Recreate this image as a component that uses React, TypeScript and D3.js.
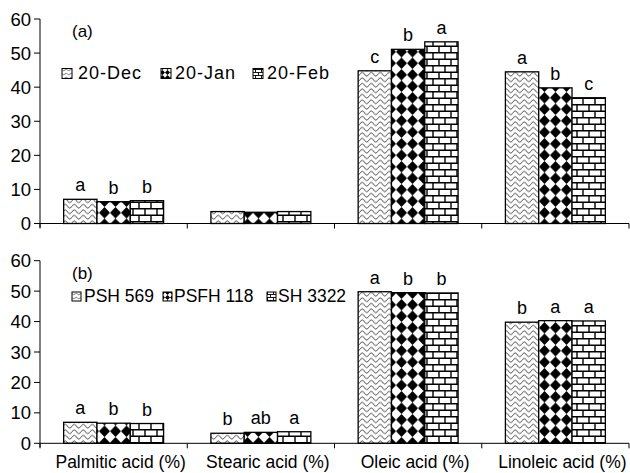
import React from "react";
import * as d3 from "d3";

const categories = ["Palmitic acid (%)", "Stearic acid (%)", "Oleic acid (%)", "Linoleic acid (%)"];
const yTicks = [0, 10, 20, 30, 40, 50, 60];

// panel (a): sowing dates
const dateSeries = ["20-Dec", "20-Jan", "20-Feb"];
const decValues = [7.1, 3.5, 44.8, 44.5];
const janValues = [6.4, 3.3, 51.1, 39.8];
const febValues = [6.7, 3.5, 53.3, 36.9];
const decLetters = ["a", "", "c", "a"];
const janLetters = ["b", "", "b", "b"];
const febLetters = ["b", "", "a", "c"];

// panel (b): hybrids
const hybridSeries = ["PSH 569", "PSFH 118", "SH 3322"];
const psh569Values = [6.9, 3.3, 49.8, 39.8];
const psfh118Values = [6.6, 3.6, 49.5, 40.3];
const sh3322Values = [6.5, 3.8, 49.4, 40.2];
const psh569Letters = ["a", "b", "a", "b"];
const psfh118Letters = ["b", "ab", "b", "a"];
const sh3322Letters = ["b", "a", "b", "a"];

const W = 630;
const H = 473;
const font = "'Liberation Sans', Arial, sans-serif";
const patterns = ["url(#wave)", "url(#diamond)", "url(#brick)"];
const smallPatterns = ["url(#waveS)", "url(#diamondS)", "url(#brickS)"];

const x0 = d3.scaleBand<string>().domain(categories).range([40, 629]);
const x1 = d3
  .scaleBand<number>()
  .domain([0, 1, 2])
  .range([0, x0.bandwidth()])
  .paddingOuter(0.71);

type PanelProps = {
  top: number;
  bottom: number;
  tag: string;
  series: string[];
  values: number[][];
  letters: string[][];
  legend: { swatchX: number[]; textX: number[]; y: number; size: number; fontSize: number; spacing: number };
};

function Panel({ top, bottom, tag, series, values, letters, legend }: PanelProps) {
  const y = d3.scaleLinear().domain([0, 60]).range([bottom, top]);
  const edges = categories.map((c) => x0(c) as number).concat([629]);
  return (
    <g>
      {categories.map((c, ci) =>
        series.map((s, si) => {
          const v = values[si][ci];
          const bx = (x0(c) as number) + (x1(si) as number);
          const bw = x1.bandwidth();
          return (
            <g key={c + s}>
              <rect
                x={bx}
                y={y(v)}
                width={bw}
                height={y(0) - y(v)}
                fill={patterns[si]}
                stroke="#000"
                strokeWidth={1.3}
              />
              {letters[si][ci] && (
                <text x={bx + bw / 2} y={y(v) - 8} textAnchor="middle" fontSize={18} fontFamily={font}>
                  {letters[si][ci]}
                </text>
              )}
            </g>
          );
        })
      )}
      {/* y axis */}
      <line x1={40} x2={40} y1={y(60)} y2={bottom + 4} stroke="#000" strokeWidth={1} />
      {yTicks.map((t) => (
        <g key={t}>
          <line x1={34} x2={40} y1={y(t)} y2={y(t)} stroke="#000" strokeWidth={1} />
          <text x={31} y={y(t) + 6.5} textAnchor="end" fontSize={18.5} fontFamily={font}>
            {t}
          </text>
        </g>
      ))}
      {/* x axis */}
      <line x1={40} x2={629} y1={bottom} y2={bottom} stroke="#000" strokeWidth={1} />
      {edges.map((e) => (
        <line key={e} x1={e} x2={e} y1={bottom} y2={bottom + 5} stroke="#000" strokeWidth={1} />
      ))}
      <text x={72} y={top + 18} fontSize={17} fontFamily={font}>
        {tag}
      </text>
      {series.map((s, si) => (
        <g key={s}>
          <rect
            x={legend.swatchX[si]}
            y={legend.y - legend.size - 0.5}
            width={legend.size}
            height={legend.size}
            fill={smallPatterns[si]}
            stroke="#000"
            strokeWidth={1}
          />
          <text
            x={legend.textX[si]}
            y={legend.y}
            fontSize={legend.fontSize}
            letterSpacing={legend.spacing}
            fontFamily={font}
          >
            {s}
          </text>
        </g>
      ))}
    </g>
  );
}

export default function App() {
  return (
    <svg width={W} height={H} style={{ position: "absolute", left: 0, top: 0, background: "#fff" }}>
      <defs>
        <pattern id="wave" width={9} height={5.5} patternUnits="userSpaceOnUse">
          <rect width={9} height={5.5} fill="#fff" />
          <path d="M0,2.75 Q2.25,-1 4.5,2.75 T9,2.75" fill="none" stroke="#333" strokeWidth={0.9} />
        </pattern>
        <pattern id="diamond" width={11} height={11.5} patternUnits="userSpaceOnUse">
          <rect width={11} height={11.5} fill="#fff" />
          <path d="M5.5,0 L11,5.75 L5.5,11.5 L0,5.75 Z" fill="#000" />
        </pattern>
        <pattern id="brick" width={12} height={13} patternUnits="userSpaceOnUse">
          <rect width={12} height={13} fill="#fff" />
          <path d="M0,0.7 H12 M0,7.2 H12 M1,0 V7 M7,7 V13" fill="none" stroke="#000" strokeWidth={1.4} />
        </pattern>
        <pattern id="waveS" width={5} height={4} patternUnits="userSpaceOnUse">
          <rect width={5} height={4} fill="#fff" />
          <path d="M0,2 Q1.25,0.5 2.5,2 T5,2" fill="none" stroke="#444" strokeWidth={0.7} />
        </pattern>
        <pattern id="diamondS" width={5} height={5} patternUnits="userSpaceOnUse">
          <rect width={5} height={5} fill="#fff" />
          <path d="M2.5,0 L5,2.5 L2.5,5 L0,2.5 Z" fill="#000" />
        </pattern>
        <pattern id="brickS" width={6} height={6} patternUnits="userSpaceOnUse">
          <rect width={6} height={6} fill="#fff" />
          <path d="M0,0.5 H6 M0,3.5 H6 M0.5,0 V3 M3.5,3 V6" fill="none" stroke="#000" strokeWidth={0.9} />
        </pattern>
      </defs>
      <rect width={W} height={H} fill="#fff" />
      <Panel
        top={19}
        bottom={223.5}
        tag="(a)"
        series={dateSeries}
        values={[decValues, janValues, febValues]}
        letters={[decLetters, janLetters, febLetters]}
        legend={{ swatchX: [62, 161, 253], textX: [78, 175, 267], y: 79, size: 10, fontSize: 18, spacing: 1 }}
      />
      <Panel
        top={260.7}
        bottom={443.3}
        tag="(b)"
        series={hybridSeries}
        values={[psh569Values, psfh118Values, sh3322Values]}
        letters={[psh569Letters, psfh118Letters, sh3322Letters]}
        legend={{ swatchX: [72, 163, 267], textX: [84, 174, 278], y: 301.5, size: 9, fontSize: 17.5, spacing: 0 }}
      />
      {categories.map((c) => (
        <text
          key={c}
          x={(x0(c) as number) + x0.bandwidth() / 2 + 7}
          y={468}
          textAnchor="middle"
          fontSize={17.5}
          fontFamily={font}
        >
          {c}
        </text>
      ))}
    </svg>
  );
}
